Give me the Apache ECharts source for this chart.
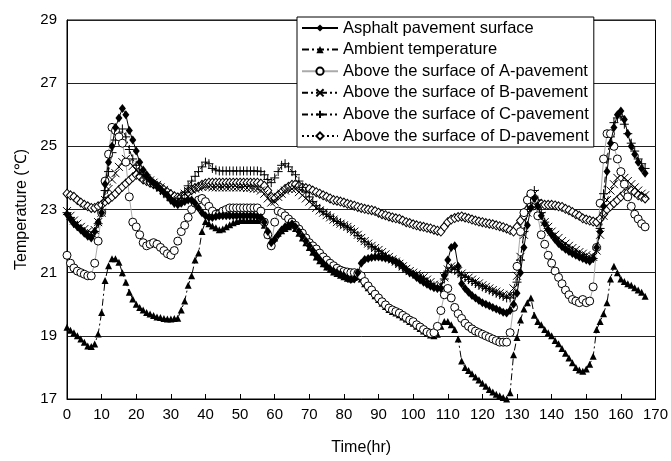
<!DOCTYPE html>
<html>
<head>
<meta charset="utf-8">
<script src="https://cdn.jsdelivr.net/npm/echarts@6/dist/echarts.min.js"></script>
<style>
html,body{margin:0;padding:0;background:#fff;}
#chart{width:671px;height:461px;}
</style>
</head>
<body>
<div id="chart"></div>
<script>
// Hourly readings, t = 0 .. 167 h
const asphalt = [
22.85,22.7,22.55,22.45,22.35,22.25,22.15,22.1,22.3,22.6,
22.9,23.8,24.5,25.0,25.6,25.9,26.2,26.0,25.5,25.2,
24.85,24.5,24.25,24.1,23.95,23.85,23.75,23.65,23.55,23.45,
23.3,23.2,23.15,23.2,23.25,23.3,23.3,23.2,23.05,22.9,
22.8,22.75,22.75,22.78,22.8,22.8,22.8,22.8,22.8,22.8,
22.8,22.8,22.8,22.8,22.8,22.78,22.75,22.6,22.3,21.95,
22.05,22.2,22.35,22.45,22.5,22.55,22.45,22.3,22.15,22.0,
21.85,21.7,21.55,21.42,21.3,21.2,21.12,21.05,21.0,20.95,
20.9,20.82,20.78,20.8,21.0,21.3,21.42,21.45,21.48,21.5,
21.5,21.48,21.46,21.44,21.4,21.35,21.3,21.2,21.1,21.0,
20.95,20.85,20.77,20.7,20.63,20.57,20.52,20.5,20.5,20.9,
21.4,21.8,21.85,21.2,20.65,20.5,20.38,20.28,20.2,20.12,
20.05,20.0,19.95,19.9,19.85,19.8,19.75,19.72,19.8,20.0,
20.35,21.0,21.8,22.5,23.05,23.35,23.1,22.8,22.55,22.35,
22.2,22.05,21.92,21.82,21.74,21.67,21.61,21.55,21.5,21.45,
21.4,21.36,21.45,21.8,22.3,23.1,24.2,25.1,25.6,26.0,
26.12,25.85,25.4,25.0,24.75,24.5,24.3,24.15];

const ambient = [
19.27,19.18,19.1,19.0,18.9,18.8,18.68,18.66,18.74,19.06,
19.74,20.75,21.22,21.44,21.44,21.33,21.0,20.7,20.38,20.17,
20.0,19.9,19.82,19.74,19.69,19.64,19.6,19.58,19.55,19.53,
19.53,19.55,19.56,19.82,20.1,20.6,20.9,21.4,21.62,22.3,
22.62,22.55,22.48,22.42,22.36,22.38,22.45,22.52,22.58,22.62,
22.65,22.65,22.65,22.65,22.65,22.65,22.65,22.5,22.2,22.0,
22.1,22.25,22.33,22.4,22.45,22.5,22.4,22.25,22.1,21.95,
21.8,21.65,21.5,21.38,21.28,21.18,21.1,21.02,20.97,20.92,
20.87,20.82,20.8,20.85,20.88,20.8,20.65,20.52,20.4,20.27,
20.15,20.03,19.93,19.83,19.77,19.72,19.67,19.6,19.53,19.45,
19.4,19.3,19.23,19.15,19.07,19.03,19.0,19.05,19.3,19.45,
19.45,19.35,19.2,18.9,18.2,18.0,17.9,17.8,17.7,17.6,
17.5,17.4,17.3,17.22,17.15,17.1,17.05,17.0,17.2,18.4,
18.95,19.5,19.85,20.05,20.2,19.65,19.45,19.35,19.2,19.1,
19.0,18.85,18.75,18.6,18.45,18.3,18.15,18.0,17.92,17.88,
17.95,18.1,18.35,19.2,19.45,19.7,20.05,20.8,21.2,21.0,
20.8,20.72,20.65,20.6,20.52,20.45,20.38,20.25];

const pavementA = [
21.55,21.3,21.15,21.05,21.0,20.95,20.9,20.9,21.3,22.0,
22.9,23.9,24.75,25.6,25.5,25.3,25.1,24.5,23.4,22.6,
22.45,22.2,21.95,21.85,21.9,21.95,21.9,21.8,21.7,21.6,
21.55,21.7,22.0,22.3,22.5,22.75,23.0,23.2,23.3,23.35,
23.25,23.1,22.95,22.85,22.85,22.95,23.0,23.05,23.05,23.05,
23.05,23.05,23.05,23.05,23.05,23.05,22.95,22.6,22.2,21.85,
22.6,22.95,22.9,22.8,22.7,22.6,22.5,22.38,22.25,22.1,
21.95,21.85,21.75,21.62,21.5,21.4,21.3,21.22,21.14,21.08,
21.04,21.02,21.0,21.0,20.98,20.9,20.72,20.58,20.45,20.32,
20.2,20.08,19.98,19.88,19.82,19.77,19.72,19.65,19.58,19.5,
19.45,19.35,19.28,19.2,19.12,19.08,19.1,19.3,19.8,20.3,
20.5,20.2,19.9,19.7,19.55,19.4,19.3,19.22,19.15,19.1,
19.05,19.0,18.95,18.9,18.85,18.8,18.8,18.8,19.1,19.9,
21.2,22.3,22.9,23.3,23.5,23.3,22.8,22.2,21.9,21.55,
21.3,21.05,20.85,20.65,20.45,20.3,20.15,20.1,20.05,20.15,
20.05,20.1,20.55,21.8,23.2,24.6,25.4,25.4,25.0,24.6,
24.2,23.8,23.4,23.1,22.85,22.7,22.55,22.45];

const pavementB = [
22.95,22.8,22.65,22.55,22.45,22.38,22.3,22.25,22.35,22.6,
22.9,23.3,23.65,23.95,24.15,24.35,24.5,24.6,24.5,24.38,
24.25,24.15,24.05,23.98,23.92,23.85,23.78,23.7,23.62,23.52,
23.42,23.32,23.3,23.4,23.5,23.58,23.63,23.66,23.7,23.72,
23.75,23.72,23.7,23.7,23.7,23.7,23.7,23.7,23.7,23.7,
23.7,23.7,23.68,23.68,23.66,23.65,23.6,23.5,23.35,23.22,
23.25,23.4,23.5,23.6,23.65,23.65,23.65,23.55,23.45,23.35,
23.25,23.15,23.05,22.97,22.9,22.82,22.75,22.68,22.6,22.55,
22.5,22.45,22.38,22.3,22.2,22.1,22.0,21.92,21.85,21.78,
21.72,21.65,21.58,21.5,21.42,21.35,21.28,21.2,21.12,21.05,
21.0,20.95,20.9,20.85,20.78,20.7,20.62,20.55,20.6,20.85,
21.1,21.2,21.15,21.05,20.97,20.9,20.84,20.78,20.72,20.66,
20.6,20.55,20.5,20.45,20.4,20.35,20.3,20.25,20.3,20.5,
20.9,21.5,22.2,22.9,23.35,23.5,23.1,22.8,22.6,22.45,
22.3,22.2,22.1,22.0,21.92,21.85,21.78,21.72,21.65,21.6,
21.55,21.5,21.5,21.7,22.2,22.8,23.3,23.6,23.8,24.0,
24.1,24.0,23.9,23.8,23.7,23.6,23.5,23.45];

const pavementC = [
22.9,22.75,22.6,22.5,22.4,22.3,22.2,22.15,22.3,22.55,
22.95,23.6,24.2,24.8,25.2,25.45,25.55,25.3,24.9,24.6,
24.4,24.25,24.1,24.0,23.9,23.8,23.7,23.6,23.5,23.4,
23.3,23.2,23.2,23.35,23.55,23.75,23.9,24.05,24.2,24.35,
24.5,24.45,24.3,24.25,24.22,24.22,24.22,24.22,24.22,24.22,
24.22,24.22,24.22,24.22,24.22,24.22,24.2,24.1,23.95,23.85,
24.0,24.2,24.4,24.45,24.35,24.2,24.1,23.9,23.7,23.55,
23.4,23.25,23.12,23.02,22.93,22.85,22.78,22.7,22.62,22.56,
22.5,22.44,22.36,22.28,22.18,22.08,21.98,21.9,21.82,21.75,
21.68,21.6,21.52,21.45,21.38,21.3,21.22,21.15,21.08,21.0,
20.95,20.9,20.85,20.8,20.72,20.65,20.58,20.52,20.55,20.8,
21.05,21.15,21.1,21.0,20.92,20.85,20.78,20.72,20.66,20.6,
20.55,20.5,20.45,20.4,20.35,20.3,20.25,20.2,20.2,20.3,
20.7,21.4,22.3,23.0,23.45,23.6,23.3,22.9,22.6,22.4,
22.25,22.1,22.0,21.9,21.82,21.75,21.68,21.62,21.55,21.5,
21.45,21.42,21.45,21.75,22.4,23.5,24.6,25.3,25.75,25.9,
25.95,25.7,25.4,25.1,24.85,24.6,24.45,24.3];

const pavementD = [
23.5,23.45,23.4,23.3,23.22,23.15,23.1,23.05,23.05,23.1,
23.15,23.25,23.32,23.4,23.5,23.62,23.72,23.82,23.92,24.02,
24.1,24.05,23.95,23.9,23.85,23.8,23.75,23.7,23.62,23.55,
23.48,23.42,23.38,23.4,23.45,23.55,23.62,23.68,23.72,23.78,
23.82,23.85,23.85,23.85,23.85,23.85,23.85,23.85,23.85,23.85,
23.85,23.85,23.85,23.85,23.85,23.85,23.82,23.75,23.6,23.4,
23.35,23.45,23.55,23.65,23.72,23.78,23.8,23.75,23.7,23.68,
23.65,23.6,23.55,23.5,23.45,23.4,23.35,23.3,23.28,23.25,
23.22,23.18,23.15,23.12,23.08,23.05,23.02,23.0,22.98,22.95,
22.9,22.85,22.82,22.78,22.75,22.72,22.7,22.65,22.6,22.57,
22.53,22.5,22.47,22.45,22.42,22.4,22.36,22.33,22.3,22.45,
22.6,22.68,22.73,22.76,22.78,22.75,22.72,22.68,22.65,22.62,
22.6,22.57,22.55,22.53,22.5,22.47,22.44,22.4,22.35,22.3,
22.45,22.65,22.8,23.0,23.15,23.2,23.2,23.18,23.15,23.15,
23.15,23.13,23.1,23.08,23.02,22.98,22.92,22.85,22.8,22.72,
22.68,22.65,22.62,22.6,22.7,22.85,23.0,23.1,23.2,23.3,
23.4,23.5,23.55,23.6,23.55,23.45,23.4,23.35];

const seriesNames = [
  'Asphalt pavement surface',
  'Ambient temperature',
  'Above the surface of A-pavement',
  'Above the surface of B-pavement',
  'Above the surface of C-pavement',
  'Above the surface of D-pavement'
];
const xTicks = {min: 0, max: 170, step: 10};
const yTicks = {min: 17, max: 29, step: 2};

const FONT = '"Liberation Sans", Arial, sans-serif';
const toPairs = arr => arr.map((v, i) => [i, v]);

const chart = echarts.init(document.getElementById('chart'), null, {renderer: 'canvas'});

const base = {type: 'line', showAllSymbol: true, animation: false, symbolKeepAspect: false};

chart.setOption({
  backgroundColor: '#fff',
  animation: false,
  grid: {left: 67, right: 14, top: 20, bottom: 62, show: true, borderColor: '#000', borderWidth: 1},
  legend: {
    orient: 'vertical', left: 297, top: 17,
    padding: [2, 5, 2, 4],
    backgroundColor: '#fff', borderColor: '#000', borderWidth: 1,
    itemWidth: 36, itemHeight: 9, itemGap: 3.6, itemTextGap: 5,
    textStyle: {fontFamily: FONT, fontSize: 16.5, color: '#000', lineHeight: 18},
    data: seriesNames
  },
  xAxis: {
    type: 'value', min: xTicks.min, max: xTicks.max, interval: xTicks.step,
    name: 'Time(hr)', nameLocation: 'middle', nameGap: 41,
    nameTextStyle: {fontFamily: FONT, fontSize: 16, color: '#000'},
    axisLine: {lineStyle: {color: '#000', width: 1}},
    axisTick: {inside: true, length: 5, lineStyle: {color: '#000'}},
    axisLabel: {fontFamily: FONT, fontSize: 15, color: '#000', margin: 8},
    splitLine: {show: false}
  },
  yAxis: {
    type: 'value', min: yTicks.min, max: yTicks.max, interval: yTicks.step,
    name: 'Temperature (\u2103)', nameLocation: 'middle', nameGap: 35, nameRotate: 90,
    nameTextStyle: {fontFamily: FONT, fontSize: 16, color: '#000'},
    axisLine: {show: true, lineStyle: {color: '#000', width: 1}},
    axisTick: {show: false},
    axisLabel: {fontFamily: FONT, fontSize: 15, color: '#000', margin: 10},
    splitLine: {show: true, lineStyle: {color: '#222', width: 1}}
  },
  series: [
    Object.assign({}, base, {
      name: seriesNames[1], data: toPairs(ambient), z: 2,
      symbol: 'triangle', symbolSize: 7,
      lineStyle: {color: '#000', width: 1, type: [7, 3, 2, 3]},
      itemStyle: {color: '#000', borderColor: '#000', borderWidth: 0}
    }),
    Object.assign({}, base, {
      name: seriesNames[5], data: toPairs(pavementD), z: 3,
      symbol: 'diamond', symbolSize: [8, 9],
      lineStyle: {color: '#000', width: 1, type: [2, 3]},
      itemStyle: {color: '#fff', borderColor: '#000', borderWidth: 1}
    }),
    Object.assign({}, base, {
      name: seriesNames[3], data: toPairs(pavementB), z: 3,
      symbol: 'path://M0,0L10,10M10,0L0,10', symbolSize: 8,
      lineStyle: {color: '#000', width: 1, type: [6, 3, 2, 3, 2, 3]},
      itemStyle: {color: 'rgba(0,0,0,0)', borderColor: '#000', borderWidth: 1}
    }),
    Object.assign({}, base, {
      name: seriesNames[4], data: toPairs(pavementC), z: 3,
      symbol: 'path://M5,0L5,10M0,5L10,5', symbolSize: 9,
      lineStyle: {color: '#000', width: 1, type: [6, 3, 2, 3, 2, 3]},
      itemStyle: {color: 'rgba(0,0,0,0)', borderColor: '#000', borderWidth: 1}
    }),
    Object.assign({}, base, {
      name: seriesNames[2], data: toPairs(pavementA), z: 3,
      symbol: 'circle', symbolSize: 8,
      lineStyle: {color: '#aaa', width: 1},
      itemStyle: {color: '#fff', borderColor: '#000', borderWidth: 1}
    }),
    Object.assign({}, base, {
      name: seriesNames[0], data: toPairs(asphalt), z: 4,
      symbol: 'diamond', symbolSize: [7, 9],
      lineStyle: {color: '#000', width: 1},
      itemStyle: {color: '#000', borderColor: '#000', borderWidth: 0}
    })
  ]
});
</script>
</body>
</html>
